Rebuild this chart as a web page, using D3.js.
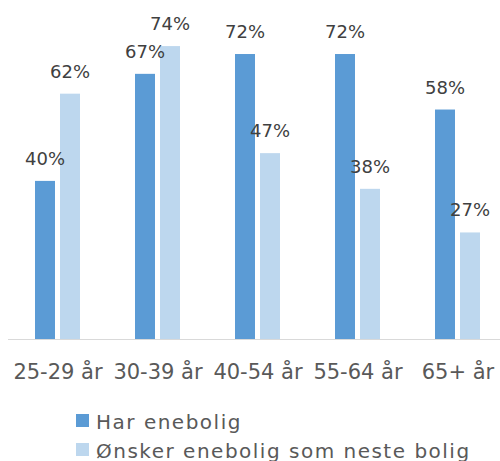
<!DOCTYPE html>
<meta charset="utf-8">
<style>
body { margin: 0; background: #fff; }
svg { font-family: "DejaVu Sans", sans-serif; }
.axis-line { stroke: #d9d9d9; stroke-width: 1; }
.value { fill: #404040; font-size: 18px; }
.cat { fill: #595959; font-size: 21px; }
.legend text { fill: #595959; font-size: 20px; letter-spacing: 1.5px; }
</style>
<body>
<script src="https://cdn.jsdelivr.net/npm/d3@7"></script>
<script>

var categories = ["25-29 år", "30-39 år", "40-54 år", "55-64 år", "65+ år"];
var series = ["Har enebolig", "Ønsker enebolig som neste bolig"];
var harEnebolig = [40, 67, 72, 72, 58];
var onskerEnebolig = [62, 74, 47, 38, 27];
var colors = ["#5b9bd5", "#bdd7ee"];

var width = 500,
    height = 461;

var values = [harEnebolig, onskerEnebolig];

var svg = d3.select("body").append("svg")
    .attr("width", width)
    .attr("height", height);

// category bands, 100px each, partly running off the right edge like the original
var x0 = d3.scaleBand()
    .domain(categories)
    .range([8, 508]);

var x1 = d3.scaleBand()
    .domain(series)
    .range([27, 72])
    .paddingInner(0.2);

var y = d3.scaleLinear()
    .domain([0, 80])
    .range([339.5, 22.3]);

var groups = svg.selectAll("g.group")
    .data(categories)
  .enter().append("g")
    .attr("class", "group")
    .attr("transform", function(d) { return "translate(" + x0(d) + ",0)"; });

groups.selectAll("rect")
    .data(function(d, i) { return series.map(function(s, j) { return {s: s, j: j, v: values[j][i]}; }); })
  .enter().append("rect")
    .attr("x", function(d) { return x1(d.s); })
    .attr("y", function(d) { return y(d.v); })
    .attr("width", x1.bandwidth())
    .attr("height", function(d) { return y(0) - y(d.v); })
    .attr("fill", function(d) { return colors[d.j]; });

groups.selectAll("text.value")
    .data(function(d, i) { return series.map(function(s, j) { return {s: s, j: j, v: values[j][i]}; }); })
  .enter().append("text")
    .attr("class", "value")
    .attr("x", function(d) { return x1(d.s) + x1.bandwidth() / 2; })
    .attr("y", function(d) { return y(d.v) - 16; })
    .attr("text-anchor", "middle")
    .text(function(d) { return d.v + "%"; });

// horizontal axis line
svg.append("line")
    .attr("class", "axis-line")
    .attr("x1", 8)
    .attr("x2", width)
    .attr("y1", y(0))
    .attr("y2", y(0));

svg.selectAll("text.cat")
    .data(categories)
  .enter().append("text")
    .attr("class", "cat")
    .attr("x", function(d) { return x0(d) + x0.bandwidth() / 2; })
    .attr("y", 379)
    .attr("text-anchor", "middle")
    .text(function(d) { return d; });

// legend
var legend = svg.append("g")
    .attr("class", "legend")
    .attr("transform", "translate(76,414)");

var item = legend.selectAll("g")
    .data(series)
  .enter().append("g")
    .attr("transform", function(d, i) { return "translate(0," + i * 29 + ")"; });

item.append("rect")
    .attr("width", 13)
    .attr("height", 13)
    .attr("fill", function(d, i) { return colors[i]; });

item.append("text")
    .attr("x", 20)
    .attr("y", 14.5)
    .text(function(d) { return d; });

</script>
